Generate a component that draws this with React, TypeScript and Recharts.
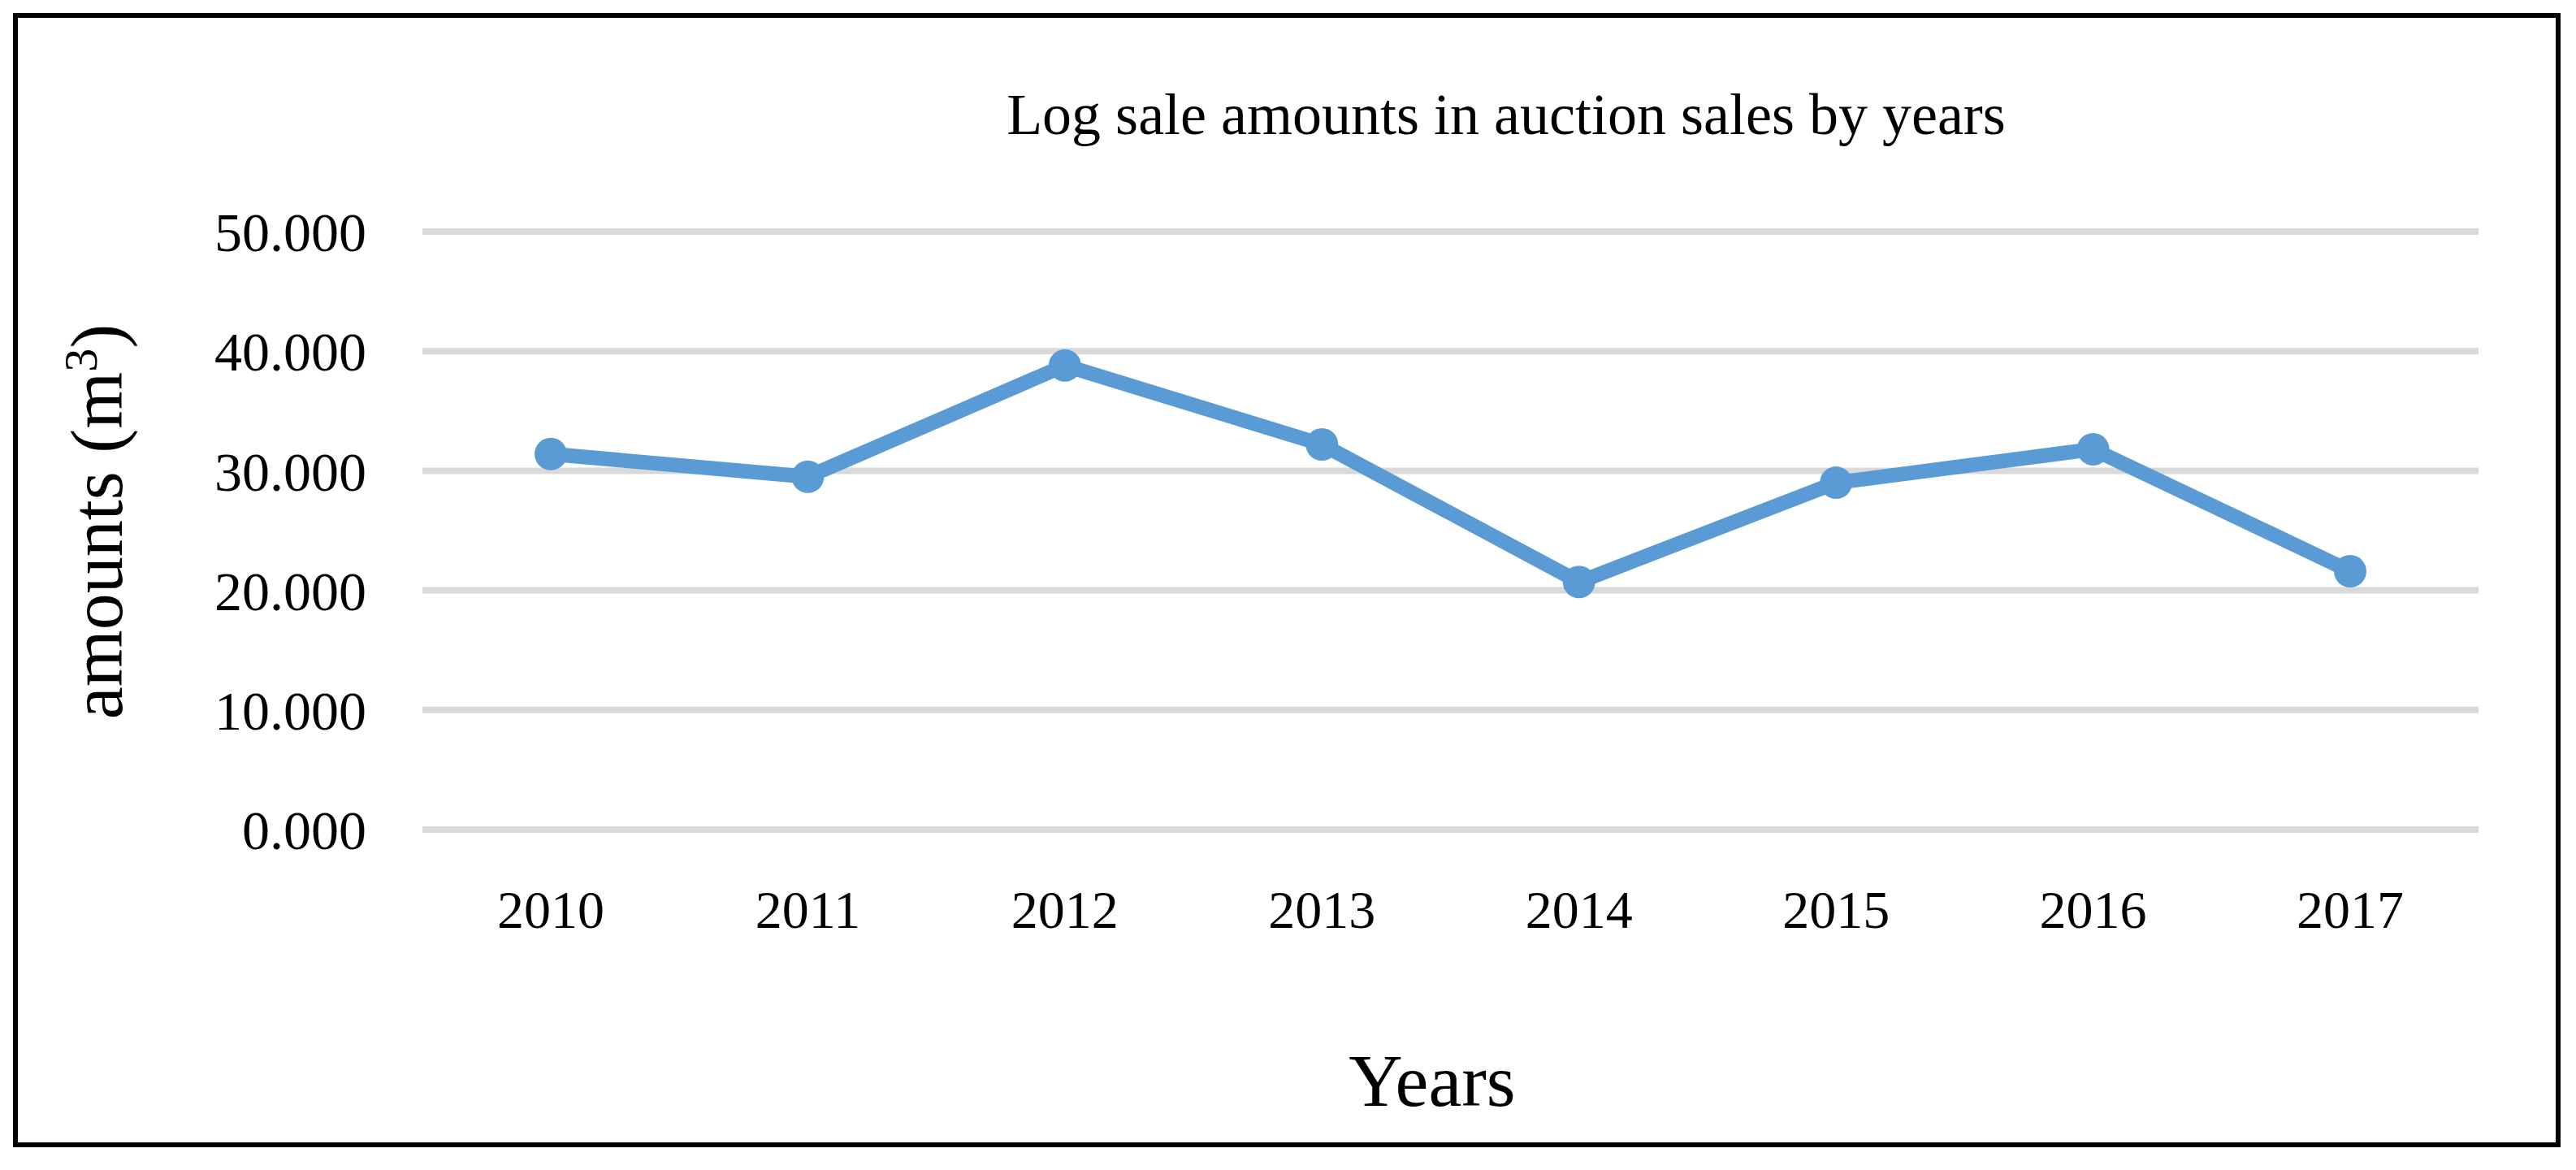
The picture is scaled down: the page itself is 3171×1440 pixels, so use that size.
import { LineChart, Line, XAxis, YAxis, CartesianGrid } from "recharts"

const years = ["2010", "2011", "2012", "2013", "2014", "2015", "2016", "2017"]
const amounts = [31.4, 29.5, 38.8, 32.2, 20.7, 29.0, 31.8, 21.6]
const yTicks = [0, 10, 20, 30, 40, 50]

const data = years.map((year, i) => ({ year, value: amounts[i] }))

const font = '"Liberation Serif", "Times New Roman", serif'
const fmt = (v: number) => v.toFixed(3)

export default function App() {
  return (
    <div style={{ position: "absolute", left: 0, top: 0, width: 3171, height: 1440, background: "#fff", fontFamily: font }}>
      <div
        style={{
          position: "absolute",
          left: 16,
          top: 16,
          width: 3124,
          height: 1384,
          border: "6px solid #000",
        }}
      />
      <div style={{ position: "absolute", left: 0, width: 3708, top: 96, textAlign: "center", fontSize: 72, lineHeight: "90px", color: "#000" }}>
        Log sale amounts in auction sales by years
      </div>
      <div
        style={{
          position: "absolute",
          left: 120,
          top: 642,
          transform: "translate(-50%, -50%) rotate(-90deg)",
          fontSize: 90,
          lineHeight: "100px",
          whiteSpace: "nowrap",
          color: "#000",
        }}
      >
        amounts (m<sup style={{ fontSize: 58, lineHeight: 0 }}>3</sup>)
      </div>
      <div style={{ position: "absolute", left: 0, width: 3526, top: 1280, textAlign: "center", fontSize: 92, lineHeight: "100px", color: "#000" }}>
        Years
      </div>
      <LineChart
        width={3171}
        height={1440}
        data={data}
        margin={{ top: 285, right: 120, left: 420, bottom: 319 }}
        style={{ position: "absolute", left: 0, top: 0 }}
      >
        <CartesianGrid vertical={false} stroke="#d9d9d9" strokeWidth={8} />
        <XAxis
          dataKey="year"
          axisLine={false}
          tickLine={false}
          tickSize={0}
          tickMargin={74}
          height={100}
          padding={{ left: 158, right: 158 }}
          tick={{ fontSize: 66, fill: "#000", fontFamily: font }}
        />
        <YAxis
          domain={[0, 50]}
          ticks={yTicks}
          tickFormatter={fmt}
          axisLine={false}
          tickLine={false}
          tickSize={0}
          tickMargin={69}
          width={100}
          tick={{ fontSize: 68, fill: "#000", fontFamily: font }}
        />
        <Line
          type="linear"
          dataKey="value"
          stroke="#5b9bd5"
          strokeWidth={18}
          dot={{ r: 20, fill: "#5b9bd5", stroke: "#5b9bd5", strokeWidth: 0 }}
          isAnimationActive={false}
        />
      </LineChart>
    </div>
  )
}
